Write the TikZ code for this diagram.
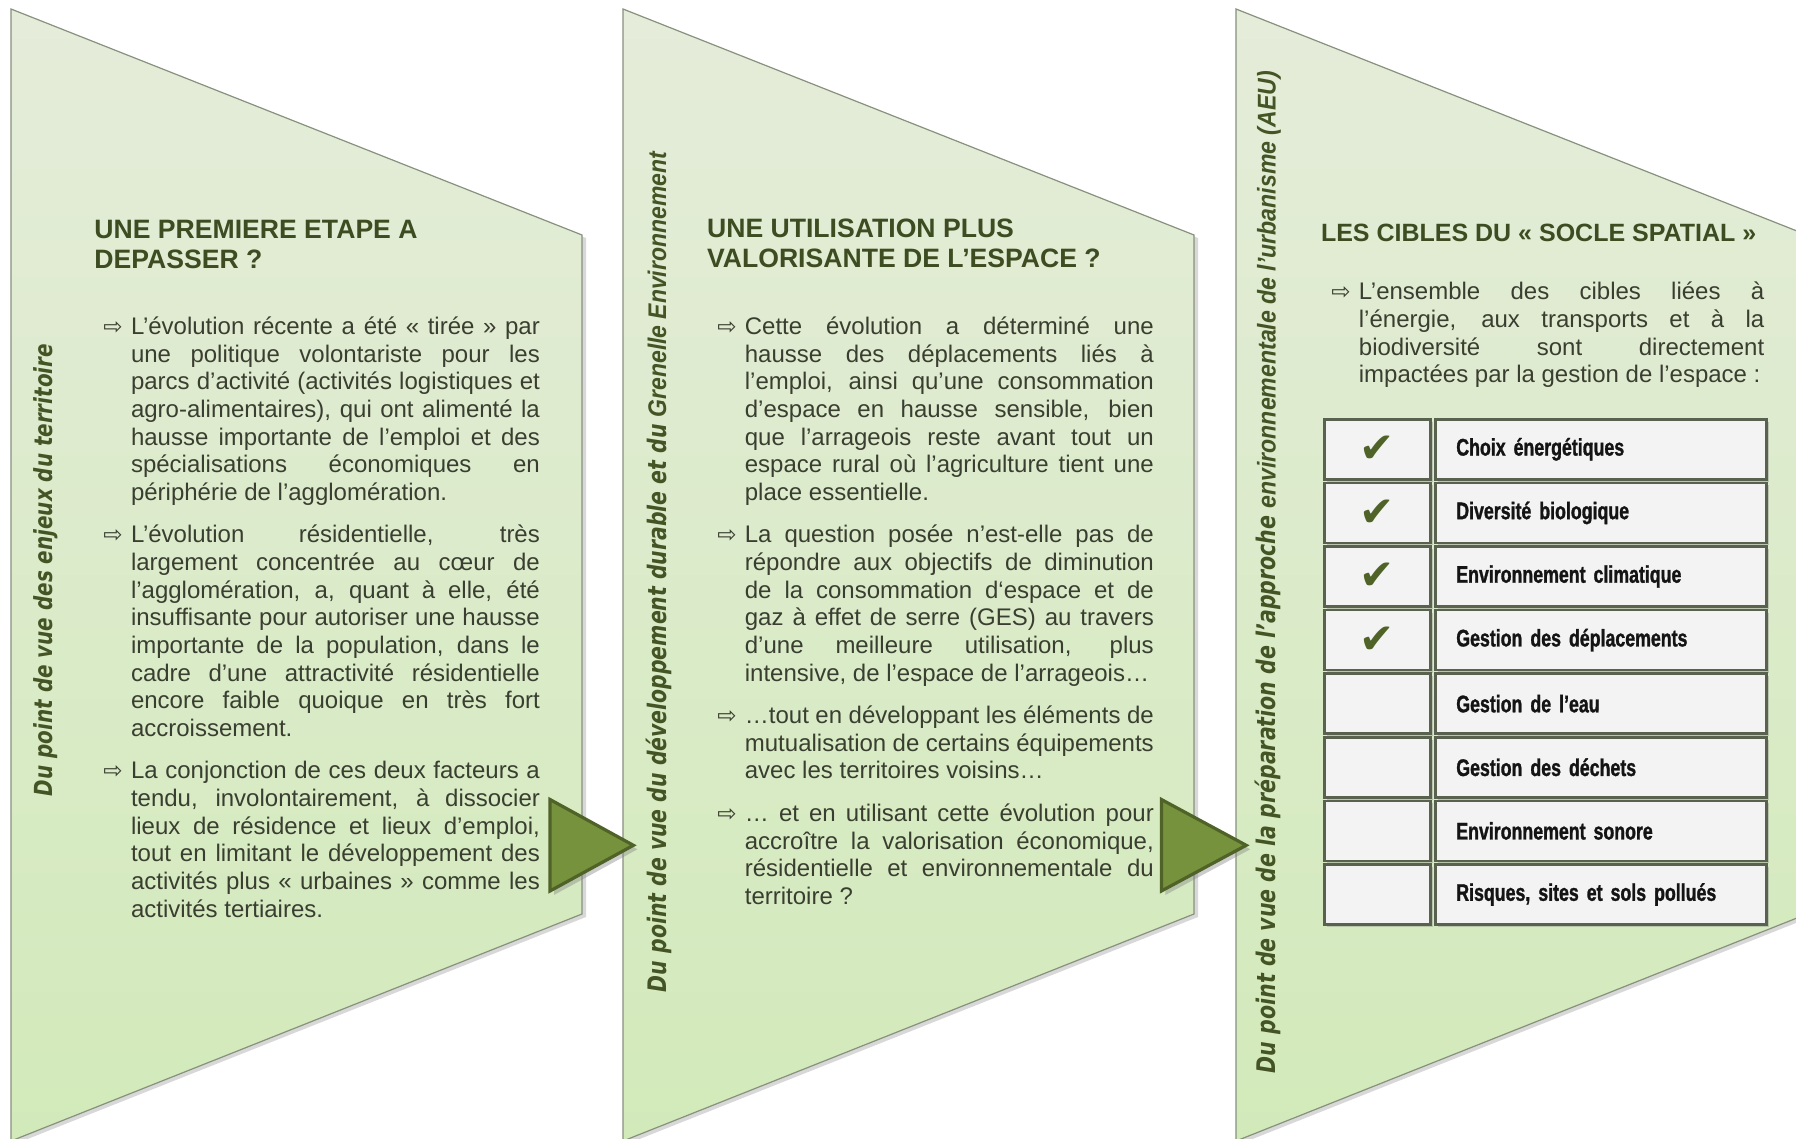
\documentclass[tikz,border=0pt]{standalone}
\usepackage{fontspec}
\usepackage{graphicx}
\setmainfont{Liberation Sans}
\newfontfamily\dvs{DejaVu Sans}
\newfontfamily\dvsc[FakeStretch=0.8]{DejaVu Sans}
\newfontfamily\lsc[FakeStretch=0.9]{Liberation Sans}
\newfontfamily\tabf[FakeStretch=0.74, BoldFeatures={FakeBold=1.2}]{Liberation Sans}
\usetikzlibrary{shadows}

\definecolor{txt}{RGB}{58,62,48}
\definecolor{ttl}{RGB}{62,76,34}
\definecolor{lbl}{RGB}{68,84,36}
\definecolor{trif}{RGB}{118,146,60}
\definecolor{tril}{RGB}{79,98,40}
\definecolor{ptop}{RGB}{229,236,218}
\definecolor{pbot}{RGB}{210,234,186}
\definecolor{pedge}{RGB}{135,145,125}
\definecolor{cellf}{RGB}{243,243,243}
\definecolor{celld}{RGB}{88,98,78}
\definecolor{chk}{RGB}{79,98,40}
\definecolor{tabt}{RGB}{20,20,20}

\newlength\hng \setlength\hng{13.8pt}
\newcommand\bul{\makebox[\hng][l]{{\dvs\fontsize{11.5}{11.5}\selectfont ⇨}}}
\newcommand\fl[1]{\hbox to \linewidth{\rule{0pt}{10pt}\bul#1}}
\newcommand\ml[1]{\hbox to \linewidth{\hskip\hng#1}}
\newcommand\el[1]{\hbox to \linewidth{\hskip\hng#1\hfil}}
\newcommand\pgap{\vskip7.4pt}
\newcommand\chkmark{{\dvs\fontsize{21}{21}\selectfont\color{chk}✔}}

\begin{document}
\begin{tikzpicture}[x=0.5pt,y=-0.5pt,
  panel/.style={top color=ptop, bottom color=pbot, draw=pedge, line width=0.6pt,
    drop shadow={shadow xshift=2pt, shadow yshift=-1.5pt, opacity=0.3}},
  tri/.style={fill=trif, draw=tril, line width=1.6pt, line join=miter,
    drop shadow={shadow xshift=2pt, shadow yshift=-2pt, opacity=0.4}},
  body/.style={anchor=north west, inner sep=0pt, text=txt,
    font=\fontsize{12}{13.83}\selectfont},
  ttlbox/.style={anchor=north west, inner sep=0pt, text=ttl,
    font=\bfseries\fontsize{13.3}{15}\selectfont},
  side/.style={rotate=90, inner sep=0pt, text=lbl},
  cellbox/.style={draw=celld, line width=1.3pt, fill=cellf, anchor=north west, inner sep=0pt,
    minimum height=30pt, drop shadow={shadow xshift=1.2pt, shadow yshift=-1.2pt, opacity=0.35}},
  ]
\useasboundingbox (0,0) rectangle (1796,1139);
\fill[white] (0,0) rectangle (1796,1139);

% panels
\path[panel] (11,9) -- (582,235) -- (582,914) -- (11,1141) -- cycle;
\path[panel] (623,9) -- (1194,235) -- (1194,914) -- (623,1141) -- cycle;
\path[panel] (1236,9) -- (1807,235) -- (1807,914) -- (1236,1141) -- cycle;

% side labels
\node[side] (lab1) at (45.8,570) {\resizebox{226pt}{!}{\dvsc\bfseries\itshape Du point de vue des enjeux du territoire}};
\node[side] (lab2) at (658.6,572) {\resizebox{420pt}{!}{\dvsc\bfseries\itshape Du point de vue du développement durable et du \lsc\bfseries\itshape Grenelle Environnement}};
\node[side] (lab3) at (1268,572) {\resizebox{501pt}{!}{\dvsc\bfseries\itshape Du point de vue de la préparation de l’approche \lsc\bfseries\itshape environnementale de l’urbanisme (AEU)}};

% titles
\node[ttlbox] (t1) at (94,216.6) {\parbox{240pt}{\hbox{\rule{0pt}{11pt}UNE PREMIERE ETAPE A}\hbox{DEPASSER ?}}};
\node[ttlbox] (t2) at (706.7,215.5) {\parbox{240pt}{\hbox{\rule{0pt}{11pt}UNE UTILISATION PLUS}\hbox{VALORISANTE DE L’ESPACE ?}}};
\node[ttlbox, font=\bfseries\fontsize{12.5}{15}\selectfont] (t3) at (1320.6,219) {\parbox{240pt}{\hbox{\rule{0pt}{11pt}LES CIBLES DU « SOCLE SPATIAL »}}};

% body panel 1
\node[body] (b1) at (103,314) {\parbox{218.25pt}{%
\fl{L’évolution récente a été « tirée » par}
\ml{une politique volontariste pour les}
\ml{parcs d’activité (activités logistiques et}
\ml{agro-alimentaires), qui ont alimenté la}
\ml{hausse importante de l’emploi et des}
\ml{spécialisations économiques en}
\el{périphérie de l’agglomération.}
\pgap
\fl{L’évolution résidentielle, très}
\ml{largement concentrée au cœur de}
\ml{l’agglomération, a, quant à elle, été}
\ml{insuffisante pour autoriser une hausse}
\ml{importante de la population, dans le}
\ml{cadre d’une attractivité résidentielle}
\ml{encore faible quoique en très fort}
\el{accroissement.}
\pgap
\fl{La conjonction de ces deux facteurs a}
\ml{tendu, involontairement, à dissocier}
\ml{lieux de résidence et lieux d’emploi,}
\ml{tout en limitant le développement des}
\ml{activités plus « urbaines » comme les}
\el{activités tertiaires.}
}};

% body panel 2
\node[body] (b2) at (716.9,314) {\parbox{218.25pt}{%
\fl{Cette évolution a déterminé une}
\ml{hausse des déplacements liés à}
\ml{l’emploi, ainsi qu’une consommation}
\ml{d’espace en hausse sensible, bien}
\ml{que l’arrageois reste avant tout un}
\ml{espace rural où l’agriculture tient une}
\el{place essentielle.}
\pgap
\fl{La question posée n’est-elle pas de}
\ml{répondre aux objectifs de diminution}
\ml{de la consommation d‘espace et de}
\ml{gaz à effet de serre (GES) au travers}
\ml{d’une meilleure utilisation, plus}
\el{intensive, de l’espace de l’arrageois…}
\pgap
\fl{…tout en développant les éléments de}
\ml{mutualisation de certains équipements}
\el{avec les territoires voisins…}
\pgap
\fl{… et en utilisant cette évolution pour}
\ml{accroître la valorisation économique,}
\ml{résidentielle et environnementale du}
\el{territoire ?}
}};

% body panel 3
\node[body] (b3) at (1330.9,279.6) {\parbox{216.5pt}{%
\fl{L’ensemble des cibles liées à}
\ml{l’énergie, aux transports et à la}
\ml{biodiversité sont directement}
\el{impactées par la gestion de l’espace :}
}};

% table
\foreach \i/\t/\c in {1/Choix énergétiques/1, 2/Diversité biologique/1, 3/Environnement climatique/1, 4/Gestion des déplacements/1, 5/Gestion de l’eau/0, 6/Gestion des déchets/0, 7/Environnement sonore/0, 8/{Risques, sites et sols pollués}/0}{
  \pgfmathsetmacro\ty{418+63.6*(\i-1)}
  \node[cellbox, minimum width=53pt] (k\i) at (1323,\ty) {\ifnum\c=1 \chkmark\fi};
  \node[cellbox, minimum width=165.5pt, text width=144.5pt, inner xsep=10.5pt, align=left,
        text=tabt, font=\tabf\bfseries\fontsize{12}{14}\selectfont] (r\i) at (1434,\ty) {\t};
}

% arrows between panels
\path[tri] (550,799.5) -- (550,891) -- (633.4,845.3) -- cycle;
\path[tri] (1161.4,799.5) -- (1161.4,891) -- (1246.2,845.3) -- cycle;
\end{tikzpicture}
\end{document}
